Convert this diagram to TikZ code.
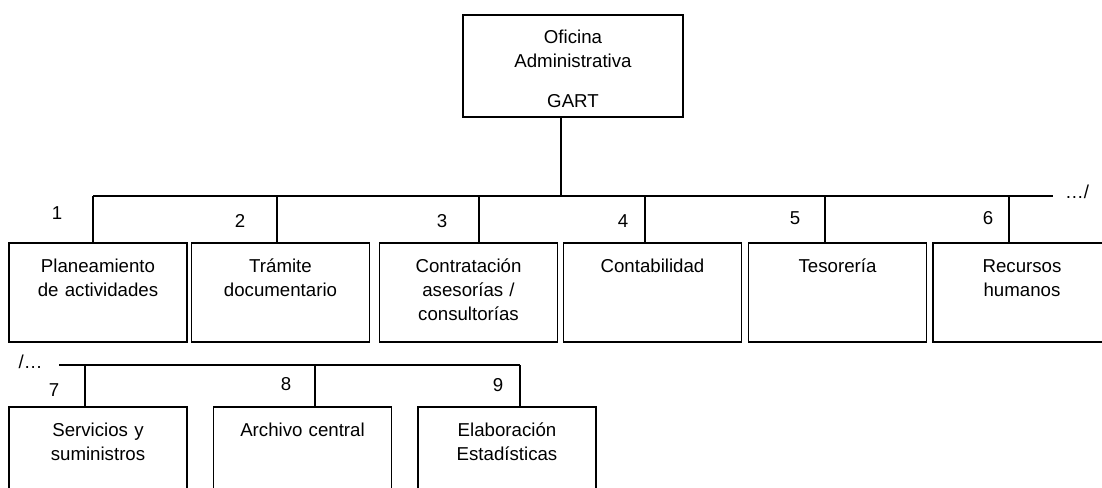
\documentclass[tikz,border=0pt]{standalone}
\usepackage{fontspec}
\setmainfont{Liberation Sans}
\usepackage{tikz}
\usetikzlibrary{positioning}

\begin{document}
\begin{tikzpicture}[
  x=0.75pt, y=-0.75pt,
  unidad/.style={rectangle, draw, line width=1.4pt, inner sep=0pt, anchor=north, text width=133.5pt, align=center, text height=22.5pt, text depth=51.75pt, font=\fontsize{14}{18}\selectfont},
  num/.style={anchor=base, inner sep=0pt, font=\fontsize{14}{18}\selectfont},
  linea/.style={line width=1.1pt},
]
\useasboundingbox (0,0) rectangle (1102,488);
\clip (0,0) rectangle (1102,488);

% === Top: Oficina Administrativa ===
\node[unidad, text width=165pt, text height=21.75pt, text depth=54.75pt] (ofi) at (573,14) {Oficina\\Administrativa\\[12pt]GART};

% === First row: units 1-6 ===
\node[unidad] (u1) at (98,242) {Planeamiento\\de actividades};
\node[unidad] (u2) at (280.5,242) {Trámite\\documentario};
\node[unidad] (u3) at (468.5,242) {Contratación\\asesorías /\\consultorías};
\node[unidad] (u4) at (652.5,242) {Contabilidad};
\node[unidad] (u5) at (837.5,242) {Tesorería};
\node[unidad] (u6) at (1022,242) {Recursos\\humanos};

% === Second row: units 7-9 ===
\node[unidad, text depth=60pt] (u7) at (98,406) {Servicios y\\suministros};
\node[unidad, text depth=60pt] (u8) at (302.5,406) {Archivo central};
\node[unidad, text depth=60pt] (u9) at (507,406) {Elaboración\\Estadísticas};

% === Numbers ===
\node[num] (n1) at (57,220) {1};
\node[num] (n2) at (240,228) {2};
\node[num] (n3) at (442,228) {3};
\node[num] (n4) at (623,228) {4};
\node[num] (n5) at (795,224) {5};
\node[num] (n6) at (988,224) {6};
\node[num] (n7) at (54,396) {7};
\node[num] (n8) at (286,390) {8};
\node[num] (n9) at (498,391) {9};

% continuation marks
\node[num] (sigue) at (1077,199) {…/};
\node[num] (viene) at (30.5,368) {/…};

% === Bar of the first row ===
\coordinate (s0) at (561,196);
\coordinate (fin) at (1053,196);
\coordinate (s1) at (93,196);
\coordinate (s2) at (277,196);
\coordinate (s3) at (479,196);
\coordinate (s4) at (645,196);
\coordinate (s5) at (825,196);
\coordinate (s6) at (1009,196);

\draw[linea] (ofi.south -| s0) -- (s0);
\draw[linea] (s1) -- (fin);
\foreach \i in {1,...,6}
  \draw[linea] (s\i) -- (s\i |- u\i.north);

% === Bar of the second row ===
\coordinate (t0) at (59,365);
\coordinate (t7) at (85,365);
\coordinate (t8) at (315,365);
\coordinate (t9) at (520,365);

\draw[linea] (t0) -- (t9);
\foreach \i in {7,8,9}
  \draw[linea] (t\i) -- (t\i |- u\i.north);
\end{tikzpicture}
\end{document}
